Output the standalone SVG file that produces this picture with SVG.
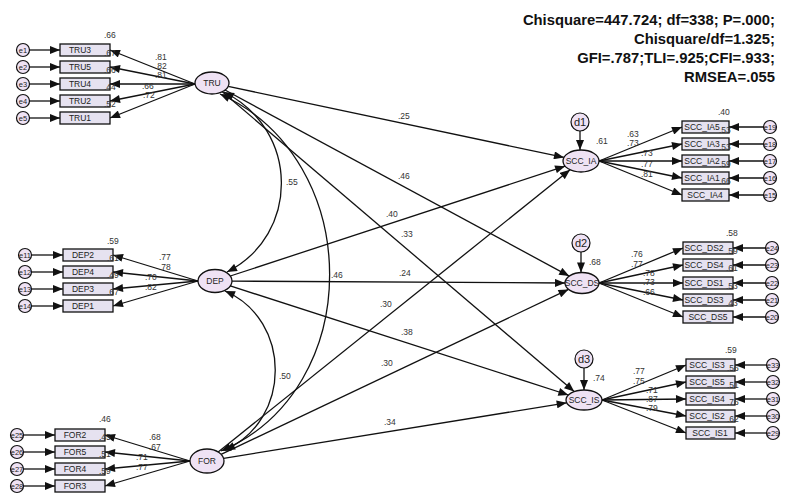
<svg xmlns="http://www.w3.org/2000/svg" width="790" height="502" viewBox="0 0 790 502">
  <style>
    .obs { fill: #e6e2f0; stroke: #111; stroke-width: 1.3; }
    .lat { fill: #efe2f4; stroke: #111; stroke-width: 1.3; }
    .err { fill: #efe2f4; stroke: #111; stroke-width: 1.2; }
    .nt { font-family: "Liberation Sans", Arial, sans-serif; font-size: 8.5px; fill: #222; text-anchor: middle; }
    .et { font-family: "Liberation Sans", Arial, sans-serif; font-size: 7.5px; fill: #222; text-anchor: middle; }
    .dt { font-family: "Liberation Sans", Arial, sans-serif; font-size: 11px; fill: #222; text-anchor: middle; }
    .num { font-family: "Liberation Sans", Arial, sans-serif; font-size: 8.5px; fill: #333; }
    .fit { font-family: "Liberation Sans", Arial, sans-serif; font-size: 14.8px; font-weight: bold; fill: #111; text-anchor: end; }
    .ln { stroke: #111; stroke-width: 1.3; fill: none; marker-end: url(#ah); }
    .cv { stroke: #111; stroke-width: 1.3; fill: none; marker-end: url(#ah); marker-start: url(#ah); }
  </style>
  <defs>
    <marker id="ah" viewBox="0 0 10 8" refX="10" refY="4" markerWidth="11" markerHeight="8" orient="auto-start-reverse" markerUnits="userSpaceOnUse">
      <path d="M0,0 L10,4 L0,8 z" fill="#111"/>
    </marker>
  </defs>
  <rect width="790" height="502" fill="#fff"/>

  <!-- model fit summary -->
  <g id="fit">
    <text class="fit" x="775" y="25">Chisquare=447.724; df=338; P=.000;</text>
    <text class="fit" x="775" y="44">Chisquare/df=1.325;</text>
    <text class="fit" x="775" y="63">GFI=.787;TLI=.925;CFI=.933;</text>
    <text class="fit" x="775" y="82">RMSEA=.055</text>
  </g>

  <!-- connectors -->
  <g id="connectors">
    <!-- TRU measurement -->
    <line class="ln" x1="195" y1="84" x2="110" y2="50"/>
    <line class="ln" x1="195" y1="84" x2="110" y2="67"/>
    <line class="ln" x1="195" y1="84" x2="110" y2="84"/>
    <line class="ln" x1="195" y1="84" x2="110" y2="101"/>
    <line class="ln" x1="195" y1="84" x2="110" y2="118"/>
    <line class="ln" x1="29.5" y1="50" x2="60" y2="50"/>
    <line class="ln" x1="29.5" y1="67" x2="60" y2="67"/>
    <line class="ln" x1="29.5" y1="84" x2="60" y2="84"/>
    <line class="ln" x1="29.5" y1="101" x2="60" y2="101"/>
    <line class="ln" x1="29.5" y1="118" x2="60" y2="118"/>
    <!-- DEP measurement -->
    <line class="ln" x1="198" y1="281" x2="113" y2="255"/>
    <line class="ln" x1="198" y1="281" x2="113" y2="272"/>
    <line class="ln" x1="198" y1="281" x2="113" y2="289"/>
    <line class="ln" x1="198" y1="281" x2="113" y2="306"/>
    <line class="ln" x1="31.5" y1="255" x2="63" y2="255"/>
    <line class="ln" x1="31.5" y1="272" x2="63" y2="272"/>
    <line class="ln" x1="31.5" y1="289" x2="63" y2="289"/>
    <line class="ln" x1="31.5" y1="306" x2="63" y2="306"/>
    <!-- FOR measurement -->
    <line class="ln" x1="190" y1="461" x2="105" y2="435"/>
    <line class="ln" x1="190" y1="461" x2="105" y2="452"/>
    <line class="ln" x1="190" y1="461" x2="105" y2="469"/>
    <line class="ln" x1="190" y1="461" x2="105" y2="486"/>
    <line class="ln" x1="23.5" y1="435" x2="55" y2="435"/>
    <line class="ln" x1="23.5" y1="452" x2="55" y2="452"/>
    <line class="ln" x1="23.5" y1="469" x2="55" y2="469"/>
    <line class="ln" x1="23.5" y1="486" x2="55" y2="486"/>
    <!-- SCC_IA measurement -->
    <line class="ln" x1="599" y1="161" x2="682" y2="127"/>
    <line class="ln" x1="599" y1="161" x2="682" y2="144"/>
    <line class="ln" x1="599" y1="161" x2="682" y2="161"/>
    <line class="ln" x1="599" y1="161" x2="682" y2="178"/>
    <line class="ln" x1="599" y1="161" x2="682" y2="195"/>
    <line class="ln" x1="763.5" y1="127" x2="729" y2="127"/>
    <line class="ln" x1="763.5" y1="144" x2="729" y2="144"/>
    <line class="ln" x1="763.5" y1="161" x2="729" y2="161"/>
    <line class="ln" x1="763.5" y1="178" x2="729" y2="178"/>
    <line class="ln" x1="763.5" y1="195" x2="729" y2="195"/>
    <!-- SCC_DS measurement -->
    <line class="ln" x1="599" y1="283" x2="683" y2="248"/>
    <line class="ln" x1="599" y1="283" x2="683" y2="265"/>
    <line class="ln" x1="599" y1="283" x2="683" y2="283"/>
    <line class="ln" x1="599" y1="283" x2="683" y2="300"/>
    <line class="ln" x1="599" y1="283" x2="683" y2="317"/>
    <line class="ln" x1="765.5" y1="248" x2="733" y2="248"/>
    <line class="ln" x1="765.5" y1="265" x2="733" y2="265"/>
    <line class="ln" x1="765.5" y1="283" x2="733" y2="283"/>
    <line class="ln" x1="765.5" y1="300" x2="733" y2="300"/>
    <line class="ln" x1="765.5" y1="317" x2="733" y2="317"/>
    <!-- SCC_IS measurement -->
    <line class="ln" x1="602" y1="400" x2="686" y2="365"/>
    <line class="ln" x1="602" y1="400" x2="686" y2="382"/>
    <line class="ln" x1="602" y1="400" x2="686" y2="399"/>
    <line class="ln" x1="602" y1="400" x2="686" y2="416"/>
    <line class="ln" x1="602" y1="400" x2="686" y2="433"/>
    <line class="ln" x1="766.5" y1="365" x2="735" y2="365"/>
    <line class="ln" x1="766.5" y1="382" x2="735" y2="382"/>
    <line class="ln" x1="766.5" y1="399" x2="735" y2="399"/>
    <line class="ln" x1="766.5" y1="416" x2="735" y2="416"/>
    <line class="ln" x1="766.5" y1="433" x2="735" y2="433"/>
    <!-- disturbances -->
    <line class="ln" x1="580" y1="131" x2="580" y2="150"/>
    <line class="ln" x1="581" y1="252" x2="581" y2="272.5"/>
    <line class="ln" x1="584" y1="368" x2="584" y2="390"/>
    <!-- structural paths -->
    <line class="ln" x1="228.2" y1="86.4" x2="564" y2="157.4"/>
    <line class="ln" x1="225" y1="90" x2="569.2" y2="276.1"/>
    <line class="ln" x1="222.3" y1="91.8" x2="574.2" y2="391.6"/>
    <line class="ln" x1="230.3" y1="276" x2="565.1" y2="166.2"/>
    <line class="ln" x1="232" y1="281.1" x2="565" y2="283"/>
    <line class="ln" x1="230.3" y1="285.9" x2="568.4" y2="395"/>
    <line class="ln" x1="218.2" y1="452" x2="570.1" y2="169.8"/>
    <line class="ln" x1="221.1" y1="454.3" x2="568.5" y2="289.4"/>
    <line class="ln" x1="223.6" y1="458.3" x2="566.7" y2="402.8"/>
    <!-- covariances -->
    <path class="cv" d="M224,92 C300,130 300,235 227,272"/>
    <path class="cv" d="M220,94 C366,160 366,390 221,451"/>
    <path class="cv" d="M225,291 C292,320 292,420 225,450"/>
  </g>

  <!-- path coefficients -->
  <g id="coefficients" class="num">
    <text x="398" y="119">.25</text>
    <text x="398" y="179">.46</text>
    <text x="401" y="237">.33</text>
    <text x="386" y="217">.40</text>
    <text x="399" y="276">.24</text>
    <text x="401" y="335">.38</text>
    <text x="380" y="307">.30</text>
    <text x="381" y="366">.30</text>
    <text x="384" y="425">.34</text>
    <text x="286" y="185">.55</text>
    <text x="331" y="278">.46</text>
    <text x="279" y="379">.50</text>
  </g>

  <!-- TRU block -->
  <g id="TRU">
    <ellipse class="lat" cx="212" cy="83" rx="17" ry="11"/>
    <text class="nt" x="212" y="86">TRU</text>
  </g>
  <g id="TRU-items">
    <rect class="obs" x="60" y="44" width="50" height="12"/><text class="nt" x="80" y="53">TRU3</text>
    <rect class="obs" x="60" y="61" width="50" height="12"/><text class="nt" x="80" y="70">TRU5</text>
    <rect class="obs" x="60" y="78" width="50" height="12"/><text class="nt" x="80" y="87">TRU4</text>
    <rect class="obs" x="60" y="95" width="50" height="12"/><text class="nt" x="80" y="104">TRU2</text>
    <rect class="obs" x="60" y="112" width="50" height="12"/><text class="nt" x="80" y="121">TRU1</text>
    <circle class="err" cx="23" cy="50" r="6.5"/><text class="et" x="23" y="53">e1</text>
    <circle class="err" cx="23" cy="67" r="6.5"/><text class="et" x="23" y="70">e2</text>
    <circle class="err" cx="23" cy="84" r="6.5"/><text class="et" x="23" y="87">e3</text>
    <circle class="err" cx="23" cy="101" r="6.5"/><text class="et" x="23" y="104">e4</text>
    <circle class="err" cx="23" cy="118" r="6.5"/><text class="et" x="23" y="121">e5</text>
    <g class="num">
      <text x="104" y="38">.66</text>
      <text x="104" y="56">.67</text>
      <text x="104" y="73">.66</text>
      <text x="104" y="90">.44</text>
      <text x="104" y="107">.52</text>
      <text x="155" y="60">.81</text>
      <text x="155" y="69">.82</text>
      <text x="155" y="78">.81</text>
      <text x="142" y="89">.66</text>
      <text x="143" y="98">.72</text>
    </g>
  </g>

  <!-- DEP block -->
  <g id="DEP">
    <ellipse class="lat" cx="215" cy="281" rx="17" ry="11.5"/>
    <text class="nt" x="215" y="284">DEP</text>
  </g>
  <g id="DEP-items">
    <rect class="obs" x="63" y="249" width="50" height="12"/><text class="nt" x="83" y="258">DEP2</text>
    <rect class="obs" x="63" y="266" width="50" height="12"/><text class="nt" x="83" y="275">DEP4</text>
    <rect class="obs" x="63" y="283" width="50" height="12"/><text class="nt" x="83" y="292">DEP3</text>
    <rect class="obs" x="63" y="300" width="50" height="12"/><text class="nt" x="83" y="309">DEP1</text>
    <circle class="err" cx="25" cy="255" r="6.5"/><text class="et" x="25" y="258">e11</text>
    <circle class="err" cx="25" cy="272" r="6.5"/><text class="et" x="25" y="275">e12</text>
    <circle class="err" cx="25" cy="289" r="6.5"/><text class="et" x="25" y="292">e13</text>
    <circle class="err" cx="25" cy="306" r="6.5"/><text class="et" x="25" y="309">e14</text>
    <g class="num">
      <text x="107" y="244">.59</text>
      <text x="107" y="261">.61</text>
      <text x="107" y="278">.49</text>
      <text x="107" y="295">.67</text>
      <text x="159" y="260">.77</text>
      <text x="159" y="270">.78</text>
      <text x="145" y="280">.70</text>
      <text x="145" y="290">.82</text>
    </g>
  </g>

  <!-- FOR block -->
  <g id="FOR">
    <ellipse class="lat" cx="207" cy="461" rx="17" ry="12"/>
    <text class="nt" x="207" y="464">FOR</text>
  </g>
  <g id="FOR-items">
    <rect class="obs" x="55" y="429" width="50" height="12"/><text class="nt" x="75" y="438">FOR2</text>
    <rect class="obs" x="55" y="446" width="50" height="12"/><text class="nt" x="75" y="455">FOR5</text>
    <rect class="obs" x="55" y="463" width="50" height="12"/><text class="nt" x="75" y="472">FOR4</text>
    <rect class="obs" x="55" y="480" width="50" height="12"/><text class="nt" x="75" y="489">FOR3</text>
    <circle class="err" cx="17" cy="435" r="6.5"/><text class="et" x="17" y="438">e25</text>
    <circle class="err" cx="17" cy="452" r="6.5"/><text class="et" x="17" y="455">e26</text>
    <circle class="err" cx="17" cy="469" r="6.5"/><text class="et" x="17" y="472">e27</text>
    <circle class="err" cx="17" cy="486" r="6.5"/><text class="et" x="17" y="489">e28</text>
    <g class="num">
      <text x="99" y="422">.46</text>
      <text x="99" y="440">.45</text>
      <text x="99" y="457">.51</text>
      <text x="99" y="474">.59</text>
      <text x="149" y="440">.68</text>
      <text x="149" y="450">.67</text>
      <text x="136" y="460">.71</text>
      <text x="136" y="470">.77</text>
    </g>
  </g>

  <!-- SCC_IA block -->
  <g id="SCC_IA">
    <ellipse class="lat" cx="581" cy="161" rx="18" ry="11"/>
    <text class="nt" x="581" y="164">SCC_IA</text>
  </g>
  <g id="d1">
    <circle class="err" cx="580" cy="122" r="9"/>
    <text class="dt" x="580" y="126">d1</text>
  </g>
  <g id="SCC_IA-items">
    <rect class="obs" x="682" y="121" width="47" height="12"/><text class="nt" x="702" y="130">SCC_IA5</text>
    <rect class="obs" x="682" y="138" width="47" height="12"/><text class="nt" x="702" y="147">SCC_IA3</text>
    <rect class="obs" x="682" y="155" width="47" height="12"/><text class="nt" x="702" y="164">SCC_IA2</text>
    <rect class="obs" x="682" y="172" width="47" height="12"/><text class="nt" x="702" y="181">SCC_IA1</text>
    <rect class="obs" x="682" y="189" width="47" height="12"/><text class="nt" x="705" y="198">SCC_IA4</text>
    <circle class="err" cx="770" cy="127" r="6.5"/><text class="et" x="770" y="130">e19</text>
    <circle class="err" cx="770" cy="144" r="6.5"/><text class="et" x="770" y="147">e18</text>
    <circle class="err" cx="770" cy="161" r="6.5"/><text class="et" x="770" y="164">e17</text>
    <circle class="err" cx="770" cy="178" r="6.5"/><text class="et" x="770" y="181">e16</text>
    <circle class="err" cx="770" cy="195" r="6.5"/><text class="et" x="770" y="198">e15</text>
    <g class="num">
      <text x="596" y="144">.61</text>
      <text x="718" y="115">.40</text>
      <text x="719" y="133">.53</text>
      <text x="719" y="150">.53</text>
      <text x="719" y="167">.59</text>
      <text x="719" y="184">.66</text>
      <text x="627" y="137">.63</text>
      <text x="627" y="146">.73</text>
      <text x="641" y="156">.73</text>
      <text x="641" y="167">.77</text>
      <text x="641" y="177">.81</text>
    </g>
  </g>

  <!-- SCC_DS block -->
  <g id="SCC_DS">
    <ellipse class="lat" cx="582" cy="283" rx="17" ry="10.5"/>
    <text class="nt" x="582" y="286">SCC_DS</text>
  </g>
  <g id="d2">
    <circle class="err" cx="581" cy="243" r="9"/>
    <text class="dt" x="581" y="247">d2</text>
  </g>
  <g id="SCC_DS-items">
    <rect class="obs" x="683" y="242" width="50" height="12"/><text class="nt" x="704" y="251">SCC_DS2</text>
    <rect class="obs" x="683" y="259" width="50" height="12"/><text class="nt" x="704" y="268">SCC_DS4</text>
    <rect class="obs" x="683" y="277" width="50" height="12"/><text class="nt" x="704" y="286">SCC_DS1</text>
    <rect class="obs" x="683" y="294" width="50" height="12"/><text class="nt" x="704" y="303">SCC_DS3</text>
    <rect class="obs" x="683" y="311" width="50" height="12"/><text class="nt" x="708" y="320">SCC_DS5</text>
    <circle class="err" cx="772" cy="248" r="6.5"/><text class="et" x="772" y="251">e24</text>
    <circle class="err" cx="772" cy="265" r="6.5"/><text class="et" x="772" y="268">e23</text>
    <circle class="err" cx="772" cy="283" r="6.5"/><text class="et" x="772" y="286">e22</text>
    <circle class="err" cx="772" cy="300" r="6.5"/><text class="et" x="772" y="303">e21</text>
    <circle class="err" cx="772" cy="317" r="6.5"/><text class="et" x="772" y="320">e20</text>
    <g class="num">
      <text x="589" y="265">.68</text>
      <text x="726" y="236">.58</text>
      <text x="726" y="254">.59</text>
      <text x="726" y="271">.61</text>
      <text x="726" y="289">.53</text>
      <text x="726" y="306">.43</text>
      <text x="631" y="257">.76</text>
      <text x="631" y="267">.77</text>
      <text x="643" y="276">.78</text>
      <text x="643" y="285">.73</text>
      <text x="643" y="295">.66</text>
    </g>
  </g>

  <!-- SCC_IS block -->
  <g id="SCC_IS">
    <ellipse class="lat" cx="584" cy="400" rx="18" ry="10"/>
    <text class="nt" x="584" y="403">SCC_IS</text>
  </g>
  <g id="d3">
    <circle class="err" cx="584" cy="359" r="9"/>
    <text class="dt" x="584" y="363">d3</text>
  </g>
  <g id="SCC_IS-items">
    <rect class="obs" x="686" y="359" width="49" height="12"/><text class="nt" x="707" y="368">SCC_IS3</text>
    <rect class="obs" x="686" y="376" width="49" height="12"/><text class="nt" x="707" y="385">SCC_IS5</text>
    <rect class="obs" x="686" y="393" width="49" height="12"/><text class="nt" x="707" y="402">SCC_IS4</text>
    <rect class="obs" x="686" y="410" width="49" height="12"/><text class="nt" x="707" y="419">SCC_IS2</text>
    <rect class="obs" x="686" y="427" width="49" height="12"/><text class="nt" x="710" y="436">SCC_IS1</text>
    <circle class="err" cx="773" cy="365" r="6.5"/><text class="et" x="773" y="368">e33</text>
    <circle class="err" cx="773" cy="382" r="6.5"/><text class="et" x="773" y="385">e32</text>
    <circle class="err" cx="773" cy="399" r="6.5"/><text class="et" x="773" y="402">e31</text>
    <circle class="err" cx="773" cy="416" r="6.5"/><text class="et" x="773" y="419">e30</text>
    <circle class="err" cx="773" cy="433" r="6.5"/><text class="et" x="773" y="436">e29</text>
    <g class="num">
      <text x="593" y="381">.74</text>
      <text x="725" y="353">.59</text>
      <text x="727" y="371">.56</text>
      <text x="727" y="388">.51</text>
      <text x="727" y="405">.76</text>
      <text x="727" y="422">.62</text>
      <text x="633" y="374">.77</text>
      <text x="633" y="384">.75</text>
      <text x="646" y="393">.71</text>
      <text x="646" y="402">.87</text>
      <text x="646" y="411">.79</text>
    </g>
  </g>
</svg>
